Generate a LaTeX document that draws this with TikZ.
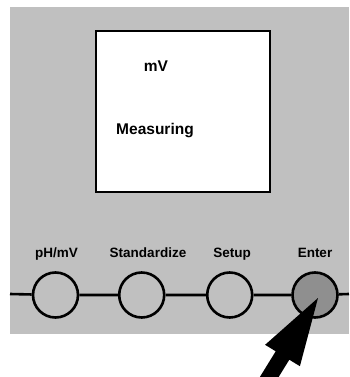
\documentclass[tikz,border=0pt]{standalone}
\usepackage{fontspec}
\setmainfont{Liberation Sans}
\usepackage{xcolor}
\definecolor{panelgray}{RGB}{192,192,192}
\definecolor{keygray}{RGB}{143,143,143}

\begin{document}
\begin{tikzpicture}[x=1pt, y=-1pt,
    key/.style={draw, circle, line width=2.6pt, minimum size=45pt, inner sep=0pt, fill=panelgray},
    keylabel/.style={anchor=base, font=\fontsize{13.5}{16}\selectfont\bfseries},
    display/.style={anchor=base, font=\fontsize{15.5}{18}\selectfont\bfseries}]
      % \draw[help lines, gray!50, very thin] (0,0) grid (349,377);
      \useasboundingbox (0,0) rectangle (349,377);
      \clip (0,0) rectangle (349,377);

      % panel and display
      \fill[panelgray] (10,7) rectangle (349,334);
      \draw[fill=white, line width=2.4pt] (96,31) rectangle (270,192);
      \node[display] (unit) at (156,72) {mV};
      \node[display] (mode) at (155,135) {Measuring};

      % keys
      \coordinate (lineL) at (10,294);
      \coordinate (lineR) at (349,294);
      \node[key] (phmv) at (55.5,295) {};
      \node[key] (std) at (141.7,295) {};
      \node[key] (setup) at (229.7,295) {};
      \node[key, fill=keygray] (enter) at (315,295) {};
      \draw[line width=2.6pt] (lineL) -- (phmv) -- (std) -- (setup) -- (enter) -- (lineR);

      \node[keylabel] at (56.5,257) {pH/mV};
      \node[keylabel] at (148,257) {Standardize};
      \node[keylabel] at (232,257) {Setup};
      \node[keylabel] at (315,257) {Enter};

      % pointer
      \fill[black] (318,298) -- (299.9,366.2) -- (289.3,359.7) -- (261.8,404.3)
        -- (248.2,395.9) -- (275.7,351.3) -- (265.1,344.8) -- cycle;
    \end{tikzpicture}
\end{document}
